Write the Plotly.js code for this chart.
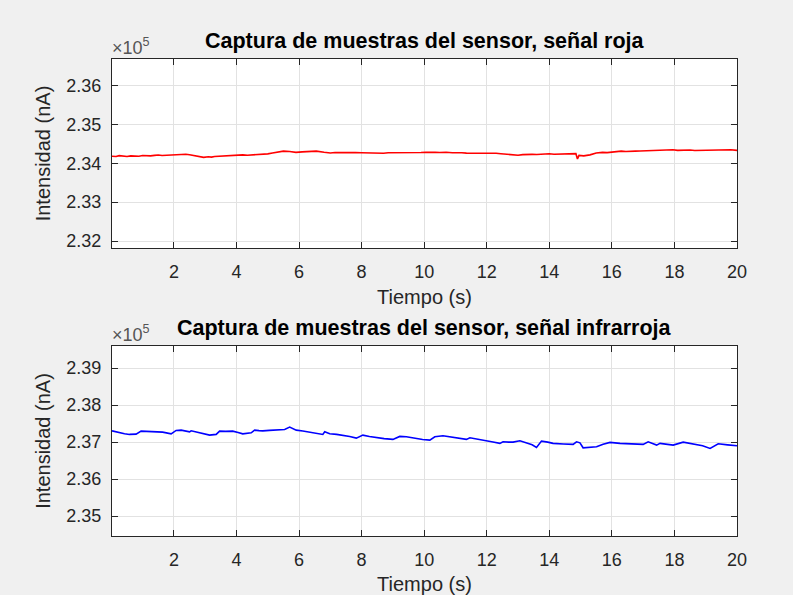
<!DOCTYPE html>
<html>
<head>
<meta charset="utf-8">
<script src="https://cdn.plot.ly/plotly-3.0.1.min.js"></script>
<style>html,body{margin:0;padding:0;background:#f0f0f0;}#chart{width:793px;height:595px;}</style>
</head>
<body>
<div id="chart"></div>
<script>
// Red signal: time (s) and intensity (nA)
const tRed = [0.02,0.15,0.25,0.38,0.5,0.62,0.75,0.88,1.0,1.12,1.25,1.38,1.5,1.62,1.75,1.88,2.0,2.12,2.25,2.38,2.5,2.65,2.8,2.95,3.1,3.2,3.3,3.45,3.6,3.75,3.9,4.05,4.2,4.35,4.5,4.65,4.8,5.0,5.15,5.3,5.5,5.7,5.9,6.1,6.3,6.55,6.8,7.0,7.15,7.3,7.45,7.6,7.8,8.0,8.15,8.3,8.5,8.7,8.85,9.0,9.15,9.3,9.45,9.6,9.75,9.9,10.05,10.2,10.35,10.5,10.7,10.9,11.05,11.2,11.35,11.5,11.75,12.0,12.15,12.3,12.45,12.6,12.8,13.0,13.15,13.3,13.45,13.6,13.8,14.0,14.15,14.3,14.45,14.6,14.75,14.85,14.9,14.95,15.1,15.3,15.5,15.7,15.85,16.0,16.15,16.3,16.45,16.6,16.75,16.9,17.1,17.3,17.45,17.6,17.8,17.95,18.1,18.2,18.35,18.5,18.65,18.8,18.95,19.1,19.3,19.5,19.65,19.8,20.0];
const vRed = [234180,234172,234195,234180,234172,234188,234185,234178,234199,234186,234190,234202,234210,234198,234205,234215,234228,234216,234222,234230,234217,234190,234160,234150,234165,234158,234172,234180,234190,234182,234205,234198,234215,234206,234212,234222,234226,234240,234262,234290,234310,234300,234280,234292,234305,234312,234280,234262,234274,234270,234262,234258,234272,234268,234262,234275,234266,234258,234270,234270,234262,234265,234276,234278,234268,234276,234284,234290,234280,234275,234282,234268,234276,234270,234260,234262,234256,234250,234262,234255,234244,234230,234218,234206,234220,234215,234228,234225,234234,234242,234230,234235,234244,234240,234236,234245,234110,234200,234190,234215,234262,234280,234272,234290,234298,234310,234302,234300,234312,234315,234320,234328,234316,234320,234334,234346,234330,234332,234344,234340,234328,234330,234338,234342,234332,234335,234346,234345,234330];

// Infrared signal: time (s) and intensity (nA)
const tIR = [0.02,0.14,0.26,0.42,0.58,0.79,0.95,1.12,1.32,1.48,1.64,1.91,2.07,2.23,2.38,2.5,2.55,2.68,2.82,3.0,3.14,3.35,3.46,3.65,3.88,4.05,4.2,4.47,4.58,4.72,4.84,5.05,5.27,5.4,5.54,5.7,5.91,6.12,6.34,6.55,6.76,6.82,6.98,7.2,7.4,7.62,7.83,8.04,8.25,8.47,8.72,9.0,9.22,9.43,9.6,9.75,9.95,10.18,10.34,10.6,10.92,11.15,11.35,11.46,11.72,11.99,12.2,12.42,12.52,12.7,12.84,13.06,13.27,13.45,13.59,13.75,13.95,14.12,14.45,14.76,14.87,14.98,15.08,15.3,15.51,15.72,15.94,16.26,16.6,17.0,17.16,17.3,17.43,17.54,17.75,17.96,18.28,18.45,18.6,18.9,19.14,19.4,19.7,20.0];
const vIR = [237305,237280,237251,237225,237208,237216,237297,237290,237297,237282,237270,237224,237316,237324,237300,237278,237305,237280,237251,237215,237189,237208,237297,237290,237297,237262,237224,237251,237324,237312,237305,237318,237324,237330,237343,237405,237324,237300,237270,237240,237208,237278,237224,237210,237189,237150,237108,237189,237150,237116,237095,237073,237154,237143,237115,237089,237070,237054,237143,237170,237127,237100,237073,237116,237080,237046,237005,236965,237008,237000,237000,237035,236981,236930,236857,237027,237000,236965,236950,236938,237008,236981,236846,236855,236873,236940,236992,236965,236950,236938,237008,236960,236919,236965,236940,236919,237000,236975,236946,236900,236830,236954,236925,236900];

const xTicks = [2,4,6,8,10,12,14,16,18,20];
const yTicksRed = [232000,233000,234000,235000,236000];
const yTextRed = ['2.32','2.33','2.34','2.35','2.36'];
const yTicksIR = [235000,236000,237000,238000,239000];
const yTextIR = ['2.35','2.36','2.37','2.38','2.39'];

const W = 793, H = 595;
const axL = 112, axR = 737;
const topA = [59, 248], topB = [346, 536];
const FONT = 'Liberation Sans, Arial, sans-serif';
const AX = '#262626';

function xax(anchor, dom) {
  return {
    domain: [axL / W, axR / W], anchor: anchor, range: [0.02, 20],
    tickvals: xTicks, ticktext: xTicks.map(String),
    ticks: 'inside', ticklen: 6, tickcolor: AX, mirror: 'ticks',
    showline: true, linecolor: AX, linewidth: 1,
    showgrid: true, gridcolor: '#e2e2e2', gridwidth: 1, zeroline: false,
    tickfont: {family: FONT, size: 18, color: AX}, ticklabelstandoff: 7,
    title: {text: 'Tiempo (s)', font: {family: FONT, size: 20, color: AX}, standoff: 9},
    automargin: false
  };
}
function yax(anchor, dom, range, tv, tt) {
  return {
    domain: [1 - dom[1] / H, 1 - dom[0] / H], anchor: anchor, range: range,
    tickvals: tv, ticktext: tt,
    ticks: 'inside', ticklen: 6, tickcolor: AX, mirror: 'ticks',
    showline: true, linecolor: AX, linewidth: 1,
    showgrid: true, gridcolor: '#e2e2e2', gridwidth: 1, zeroline: false,
    tickfont: {family: FONT, size: 18, color: AX}, ticklabelstandoff: 6,
    title: {text: 'Intensidad (nA)', font: {family: FONT, size: 20, color: AX}, standoff: 10},
    automargin: false
  };
}

const data = [
  {x: tRed, y: vRed, xaxis: 'x', yaxis: 'y', type: 'scatter', mode: 'lines',
   line: {color: '#ff0000', width: 1.6}, showlegend: false},
  {x: tIR, y: vIR, xaxis: 'x2', yaxis: 'y2', type: 'scatter', mode: 'lines',
   line: {color: '#0000ff', width: 1.6}, showlegend: false}
];

const layout = {
  width: W, height: H,
  margin: {l: 0, r: 0, t: 0, b: 0},
  paper_bgcolor: '#f0f0f0', plot_bgcolor: '#ffffff',
  showlegend: false,
  xaxis: xax('y', topA),
  yaxis: yax('x', topA, [231820, 236680], yTicksRed, yTextRed),
  xaxis2: xax('y2', topB),
  yaxis2: yax('x2', topB, [234460, 239600], yTicksIR, yTextIR),
  annotations: [
    {text: '<b>Captura de muestras del sensor, señal roja</b>', xref: 'paper', yref: 'paper',
     x: (axL + axR) / 2 / W, y: 1 - 41 / H, xanchor: 'center', yanchor: 'middle', showarrow: false,
     font: {family: FONT, size: 21.5, color: '#000'}},
    {text: '<b>Captura de muestras del sensor, señal infrarroja</b>', xref: 'paper', yref: 'paper',
     x: (axL + axR) / 2 / W, y: 1 - 328 / H, xanchor: 'center', yanchor: 'middle', showarrow: false,
     font: {family: FONT, size: 21.5, color: '#000'}},
    {text: '×10<sup>5</sup>', xref: 'paper', yref: 'paper', x: (axL - 2) / W, y: 1 - 47 / H,
     xanchor: 'left', yanchor: 'middle', showarrow: false, font: {family: FONT, size: 18, color: '#555555'}},
    {text: '×10<sup>5</sup>', xref: 'paper', yref: 'paper', x: (axL - 2) / W, y: 1 - 333 / H,
     xanchor: 'left', yanchor: 'middle', showarrow: false, font: {family: FONT, size: 18, color: '#555555'}}
  ]
};

Plotly.newPlot('chart', data, layout, {displayModeBar: false, staticPlot: true});
</script>
</body>
</html>
